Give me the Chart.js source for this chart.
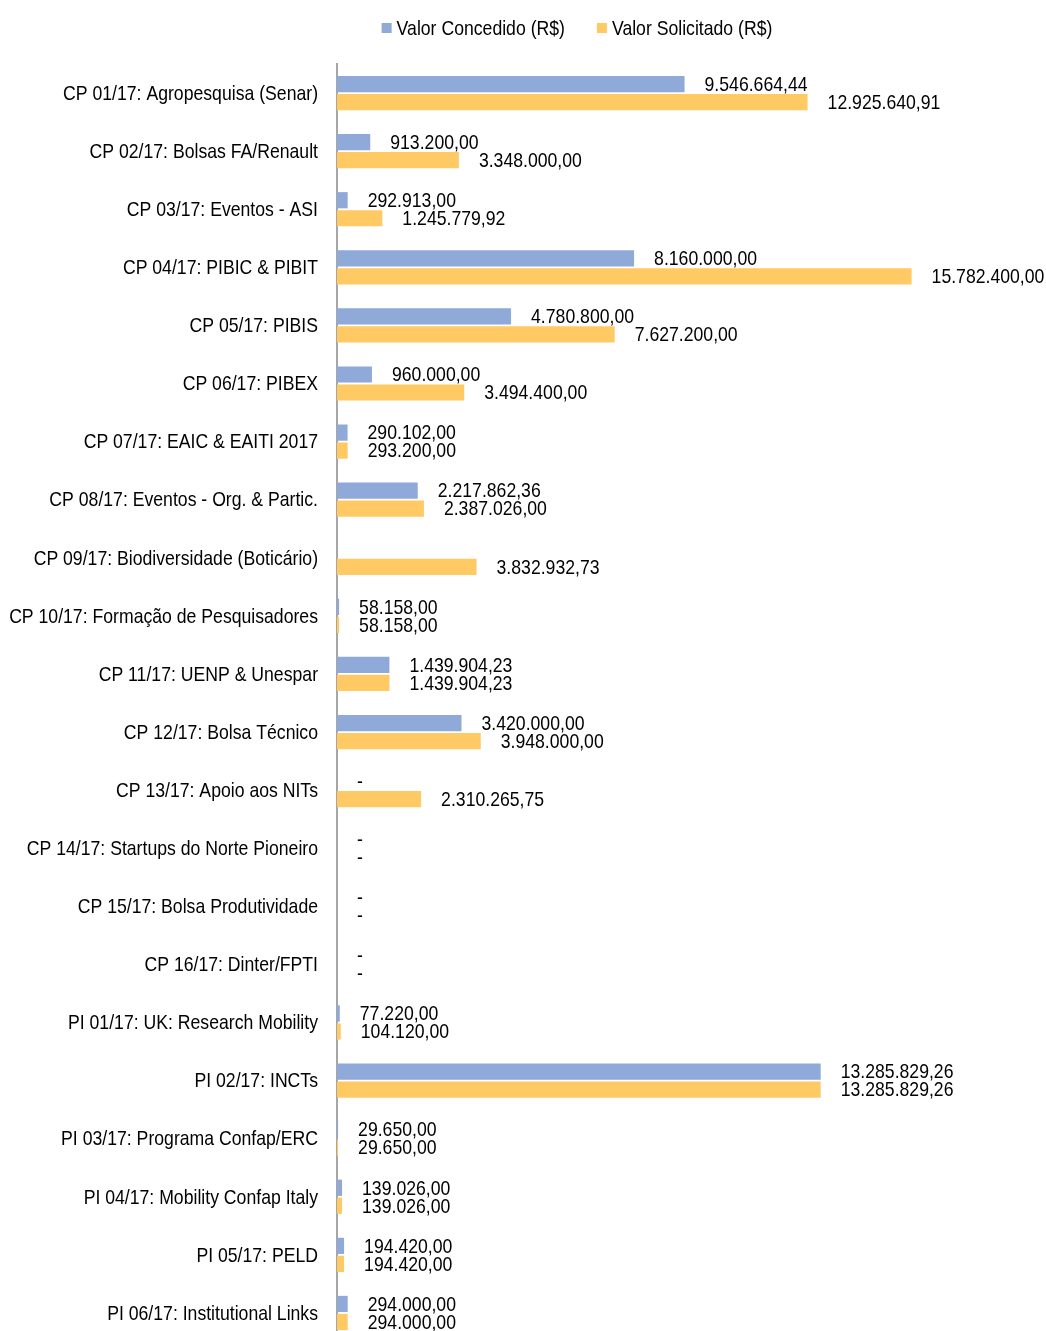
<!DOCTYPE html>
<html>
<head>
  <title>Chamadas 2017</title>
  <script src="https://cdn.jsdelivr.net/npm/chart.js"></script>
  <style>
    body {
      margin: 0;
      overflow: hidden;
      background: #fff;
    }
  </style>
</head>
<body>
  <canvas id="myChart" width="1046" height="1346"></canvas>

  <script>
    // Calls (categories)
    const categories = [
      'CP 01/17: Agropesquisa (Senar)',
      'CP 02/17: Bolsas FA/Renault',
      'CP 03/17: Eventos - ASI',
      'CP 04/17: PIBIC & PIBIT',
      'CP 05/17: PIBIS',
      'CP 06/17: PIBEX',
      'CP 07/17: EAIC & EAITI 2017',
      'CP 08/17: Eventos - Org. & Partic.',
      'CP 09/17: Biodiversidade (Boticário)',
      'CP 10/17: Formação de Pesquisadores',
      'CP 11/17: UENP & Unespar',
      'CP 12/17: Bolsa Técnico',
      'CP 13/17: Apoio aos NITs',
      'CP 14/17: Startups do Norte Pioneiro',
      'CP 15/17: Bolsa Produtividade',
      'CP 16/17: Dinter/FPTI',
      'PI 01/17: UK: Research Mobility',
      'PI 02/17: INCTs',
      'PI 03/17: Programa Confap/ERC',
      'PI 04/17: Mobility Confap Italy',
      'PI 05/17: PELD',
      'PI 06/17: Institutional Links'
    ];

    // Valor Concedido (R$) - null = no value shown
    const concedido = [
      9546664.44, 913200.00, 292913.00, 8160000.00, 4780800.00, 960000.00,
      290102.00, 2217862.36, null, 58158.00, 1439904.23, 3420000.00,
      0, 0, 0, 0, 77220.00, 13285829.26, 29650.00, 139026.00, 194420.00, 294000.00
    ];

    // Valor Solicitado (R$)
    const solicitado = [
      12925640.91, 3348000.00, 1245779.92, 15782400.00, 7627200.00, 3494400.00,
      293200.00, 2387026.00, 3832932.73, 58158.00, 1439904.23, 3948000.00,
      2310265.75, 0, 0, 0, 104120.00, 13285829.26, 29650.00, 139026.00, 194420.00, 294000.00
    ];

    const seriesNames = ['Valor Concedido (R$)', 'Valor Solicitado (R$)'];
    const seriesColors = ['#8FA9D8', '#FFC964'];

    // no narrow font installed, so text is squeezed horizontally
    const FONT = '21px "Liberation Sans", Arial, sans-serif';
    const SX = 0.84;

    // 1234567.8 -> "1.234.567,80"
    function fmtBR(v) {
      const parts = v.toFixed(2).split('.');
      return parts[0].replace(/\B(?=(\d{3})+(?!\d))/g, '.') + ',' + parts[1];
    }

    function narrowText(ctx, txt, x, y, align) {
      ctx.save();
      ctx.textAlign = align;
      ctx.scale(SX, 1);
      ctx.fillText(txt, x / SX, y);
      ctx.restore();
    }

    // category labels, placed with the y scale
    const yLabels = {
      id: 'yLabels',
      afterDraw(chart) {
        const ctx = chart.ctx;
        const scale = chart.scales.y;
        ctx.save();
        ctx.font = FONT;
        ctx.fillStyle = '#000';
        ctx.textBaseline = 'middle';
        chart.data.labels.forEach((lbl, i) => {
          narrowText(ctx, lbl, scale.right - 19, scale.getPixelForTick(i) + 1, 'right');
        });
        ctx.restore();
      }
    };

    // value labels to the right of each bar
    const barLabels = {
      id: 'barLabels',
      afterDatasetsDraw(chart) {
        const ctx = chart.ctx;
        ctx.save();
        ctx.font = FONT;
        ctx.fillStyle = '#000';
        ctx.textBaseline = 'middle';
        chart.data.datasets.forEach((ds, di) => {
          const meta = chart.getDatasetMeta(di);
          meta.data.forEach((bar, i) => {
            const v = ds.data[i];
            if (v === null || v === undefined) return;
            const txt = v === 0 ? '-' : fmtBR(v);
            narrowText(ctx, txt, bar.x + 20, bar.y + 1, 'left');
          });
        });
        ctx.restore();
      }
    };

    // legend drawn by hand so it can sit over the plot like the original
    const topLegend = {
      id: 'topLegend',
      afterDraw(chart) {
        const ctx = chart.ctx;
        ctx.save();
        ctx.font = FONT;
        ctx.textBaseline = 'middle';
        const box = 10, gap = 5, spacing = 32;
        const widths = chart.data.datasets.map(ds => box + gap + ctx.measureText(ds.label).width * SX);
        const total = widths.reduce((a, b) => a + b, 0) + spacing * (widths.length - 1);
        let x = 577 - total / 2;
        const y = 28;
        chart.data.datasets.forEach((ds, i) => {
          ctx.fillStyle = ds.backgroundColor;
          ctx.fillRect(x, y - 5, box, box);
          ctx.fillStyle = '#000';
          narrowText(ctx, ds.label, x + box + gap, y + 1, 'left');
          x += widths[i] + spacing;
        });
        ctx.restore();
      }
    };

    const ctx = document.getElementById('myChart').getContext('2d');
    const chart = new Chart(ctx, {
      type: 'bar',
      data: {
        labels: categories,
        datasets: [
          { label: seriesNames[0], data: concedido, backgroundColor: seriesColors[0] },
          { label: seriesNames[1], data: solicitado, backgroundColor: seriesColors[1] }
        ]
      },
      options: {
        indexAxis: 'y',
        responsive: false,
        animation: false,
        categoryPercentage: 0.62,
        barPercentage: 0.9,
        layout: {
          padding: { top: 64, right: 10, bottom: 4, left: 0 }
        },
        plugins: {
          legend: { display: false },
          tooltip: { enabled: false }
        },
        scales: {
          x: {
            display: false,
            min: 0,
            max: 19200000
          },
          y: {
            grid: { display: false },
            border: { display: true, color: '#A6A6A6', width: 2 },
            ticks: { display: false },
            afterFit(scale) {
              scale.width = 337;
            }
          }
        }
      },
      plugins: [yLabels, barLabels, topLegend]
    });
  </script>
</body>
</html>
